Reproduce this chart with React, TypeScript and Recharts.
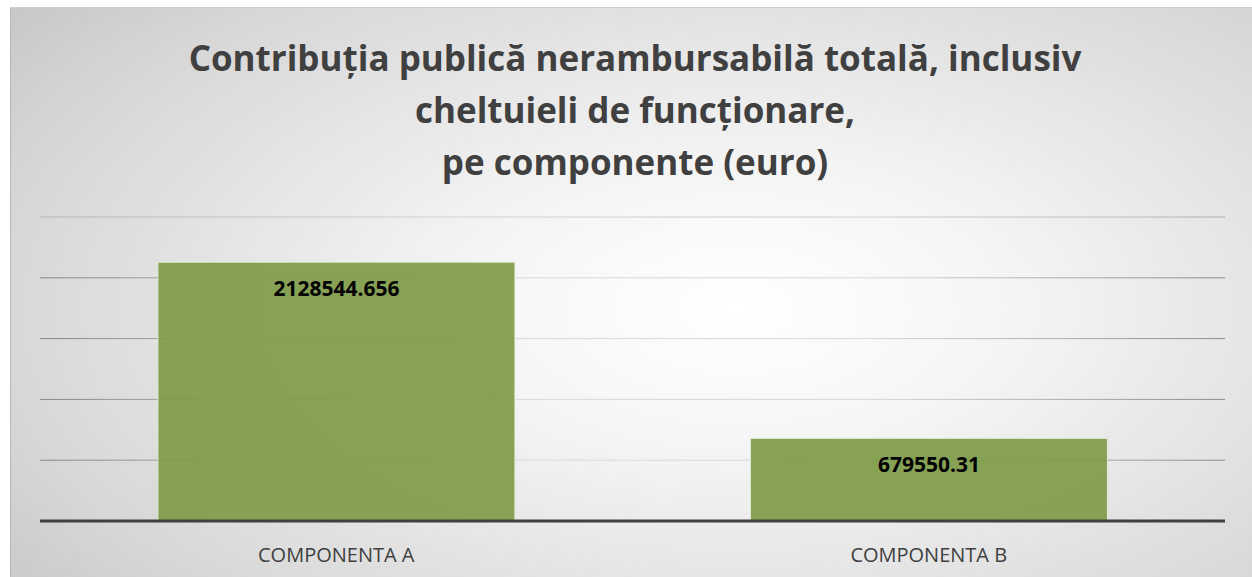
import { BarChart, Bar, XAxis, YAxis, CartesianGrid, ReferenceLine, LabelList } from "recharts";

const TITLE_LINES = [
  "Contribuția publică nerambursabilă totală, inclusiv",
  "cheltuieli de funcționare,",
  "pe componente (euro)",
];
const CATEGORIES = ["COMPONENTA A", "COMPONENTA B"];
const VALUES = [2128544.656, 679550.31];
const Y_TICKS = [0, 500000, 1000000, 1500000, 2000000];
const Y_MAX = 2500000;

const FONT = "'Open Sans', Lato, sans-serif";

export default function App() {
  const data = CATEGORIES.map((name, i) => ({ name, value: VALUES[i] }));

  return (
    <div style={{ position: "absolute", left: 0, top: 0, width: 1252, height: 577, background: "#fff", overflow: "hidden" }}>
      <div
        style={{
          position: "absolute",
          left: 10,
          top: 7,
          width: 1252,
          height: 580,
          borderLeft: "1px solid #b8b8b8",
          borderTop: "1px solid #cfcfcf",
          background: "radial-gradient(ellipse 75% 85% at 58% 52%, #ffffff 0%, #f4f4f4 30%, #d6d6d6 80%, #c6c6c6 100%)",
        }}
      />
      <div
        style={{
          position: "absolute",
          left: 0,
          top: 32,
          width: 1270,
          textAlign: "center",
          fontFamily: FONT,
          fontWeight: 700,
          fontSize: 35,
          lineHeight: "52px",
          color: "#404040",
        }}
      >
        {TITLE_LINES.map((t) => (
          <div key={t}>{t}</div>
        ))}
      </div>
      <div style={{ position: "absolute", left: 0, top: 0 }}>
        <BarChart
          width={1252}
          height={577}
          data={data}
          margin={{ top: 217, right: 27, bottom: 0, left: 40 }}
          barCategoryGap="19.9%"
        >
          <defs>
            <linearGradient id="gridGrad" gradientUnits="userSpaceOnUse" x1={40} y1={0} x2={1225} y2={0}>
              <stop offset="0%" stopColor="#858585" />
              <stop offset="35%" stopColor="#d8d8d8" />
              <stop offset="70%" stopColor="#d8d8d8" />
              <stop offset="100%" stopColor="#8a8a8a" />
            </linearGradient>
          </defs>
          <CartesianGrid vertical={false} stroke="url(#gridGrad)" strokeWidth={1} />
          <ReferenceLine y={Y_MAX} stroke="#dedede" strokeWidth={1} />
          <YAxis hide domain={[0, Y_MAX]} ticks={Y_TICKS} />
          <XAxis
            dataKey="name"
            height={56}
            axisLine={{ stroke: "#404040", strokeWidth: 3 }}
            tickLine={false}
            tick={{ fontFamily: FONT, fontSize: 20, fill: "#404040" }}
            dy={19}
          />
          <Bar
            dataKey="value"
            fill="#7e9a48"
            fillOpacity={0.92}
            stroke="#e4ebd8"
            strokeWidth={1}
            isAnimationActive={false}
          >
            <LabelList
              dataKey="value"
              position="insideTop"
              offset={19}
              style={{ fontFamily: FONT, fontWeight: 700, fontSize: 21, fill: "#000" }}
            />
          </Bar>
        </BarChart>
      </div>
    </div>
  );
}
